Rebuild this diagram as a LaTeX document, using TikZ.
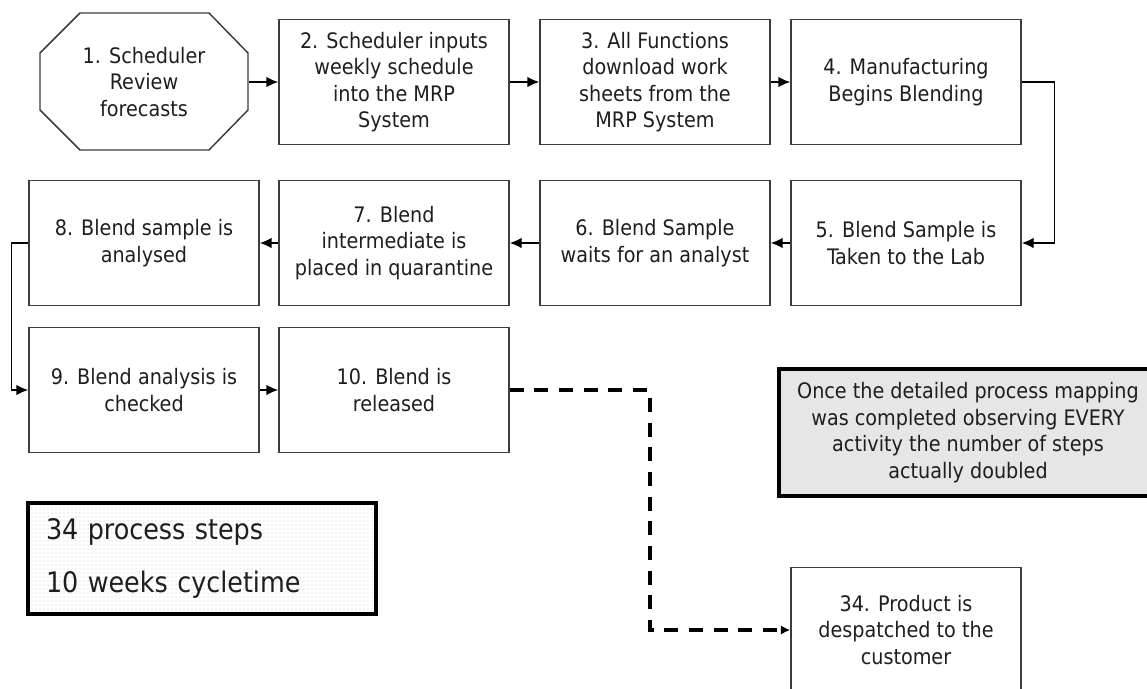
\documentclass[tikz,border=0pt]{standalone}
\usepackage{fontspec}
\setmainfont{DejaVu Sans Condensed}
\usepackage{xcolor}
\usepackage{tikz}
\usetikzlibrary{arrows.meta,patterns,calc}

\definecolor{linegray}{HTML}{3C3C3C}
\definecolor{textgray}{HTML}{1E1E1E}
\definecolor{notefill}{HTML}{E6E6E6}

\tikzset{
    box/.style={draw=linegray, line width=1.1pt, minimum width=172.5pt, minimum height=93.75pt,
        align=center, text=textgray, font=\fontsize{16}{19.9}\selectfont},
    flow/.style={draw=black, line width=1.1pt, -{Latex[length=9pt,width=8pt]}},
}

\begin{document}
\begin{tikzpicture}[x=0.75pt, y=-0.75pt]
    \useasboundingbox (0,0) rectangle (1147,689);

    % Start (octagon)
    \draw[draw=linegray, line width=1.1pt] (80,13) -- (209,13) -- (248,53) -- (248,110)
        -- (209,150) -- (80,150) -- (40,110) -- (40,53) -- cycle;
    \node (n1) at (144,82) [box, draw=none, minimum width=156pt] {1. Scheduler\\Review\\forecasts};

    % Row 1
    \node (n2) at (394,82) [box] {2. Scheduler inputs\\weekly schedule\\into the MRP\\System};
    \node (n3) at (655,82) [box] {3. All Functions\\download work\\sheets from the\\MRP System};
    \node (n4) at (906,82) [box] {4. Manufacturing\\Begins Blending};

    % Row 2
    \node (n5) at (906,243) [box] {5. Blend Sample is\\Taken to the Lab};
    \node (n6) at (655,243) [box] {6. Blend Sample\\waits for an analyst};
    \node (n7) at (394,243) [box] {7. Blend\\intermediate is\\placed in quarantine};
    \node (n8) at (144,243) [box] {8. Blend sample is\\analysed};

    % Row 3
    \node (n9) at (144,390) [box] {9. Blend analysis is\\checked};
    \node (n10) at (394,390) [box] {10. Blend is\\released};

    % Last step
    \node (n34) at (906,630) [box] {34. Product is\\despatched to the\\customer};

    % Note
    \node (note) at (968,432.5) [box, draw=black, line width=3.2pt, fill=notefill,
        minimum width=283.5pt, minimum height=95.25pt]
        {Once the detailed process mapping\\was completed observing EVERY\\activity the number of steps\\actually doubled};

    % Summary
    \node (summary) at (202,558.5) [draw=black, line width=3.4pt, pattern=dots, pattern color=black!22,
        text width=234pt, inner xsep=13.5pt, minimum height=83.25pt, align=left, text=textgray,
        font=\fontsize{21.2}{40}\selectfont] {34 process steps\\10 weeks cycletime};

    % Arrows
    \draw[flow] (n1.east) -- (n2.west);
    \draw[flow] (n2.east) -- (n3.west);
    \draw[flow] (n3.east) -- (n4.west);
    \draw[flow] (n4.east) -- ++(33,0) |- (n5.east);
    \draw[flow] (n5.west) -- (n6.east);
    \draw[flow] (n6.west) -- (n7.east);
    \draw[flow] (n7.west) -- (n8.east);
    \draw[flow] (n8.west) -- ++(-17,0) |- (n9.west);
    \draw[flow] (n9.east) -- (n10.west);
    \draw[flow, line width=3pt, dash pattern=on 10.5pt off 8pt, -{Latex[length=7pt,width=7pt]}]
        (n10.east) -- ++(140,0) |- (n34.west);
\end{tikzpicture}
\end{document}
